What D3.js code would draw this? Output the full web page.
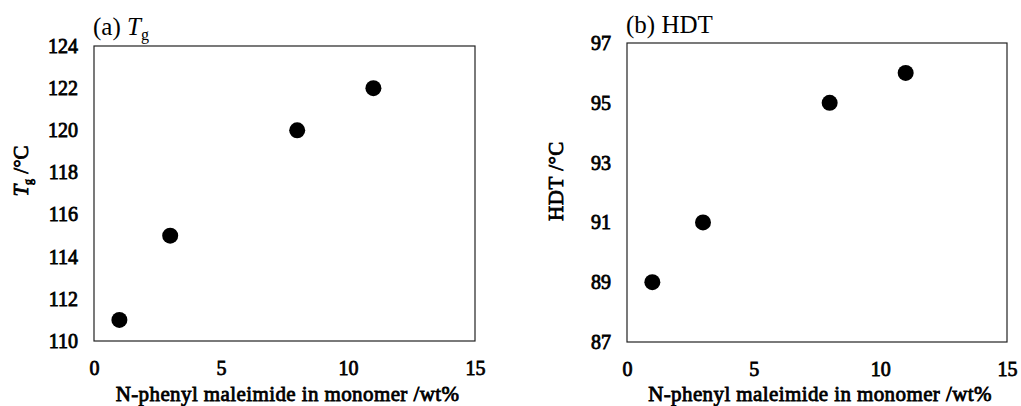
<!DOCTYPE html>
<html><head><meta charset="utf-8">
<script src="https://cdn.jsdelivr.net/npm/d3@7"></script>
<style>body{margin:0;background:#fff}svg{display:block}text{font-family:"Liberation Serif","Times New Roman",serif}
.b{font-weight:normal;stroke:#000;stroke-width:0.8px;fill:#000}</style>
</head><body><svg id="c" width="1021" height="406"></svg>
<script>
const npm = [1, 3, 8, 11];
const tgValues = [111, 115, 120, 122];
const hdtValues = [89, 91, 95, 96];
const xTicks = [0, 5, 10, 15];
const tgTicks = [110, 112, 114, 116, 118, 120, 122, 124];
const hdtTicks = [87, 89, 91, 93, 95, 97];

const svg = d3.select("#c");

function panel(opts) {
  const {left, right, top, bottom, ydom, yticks, vals} = opts;
  const x = d3.scaleLinear().domain([0, 15]).range([left, right]);
  const y = d3.scaleLinear().domain(ydom).range([bottom, top]);
  const g = svg.append("g");
  g.append("rect").attr("x", left).attr("y", top).attr("width", right - left).attr("height", bottom - top)
    .attr("fill", "none").attr("stroke", "#222").attr("stroke-width", 1.2);
  const xa = g.append("g").attr("transform", `translate(0,${bottom + 20})`)
    .call(d3.axisBottom(x).tickValues(xTicks).tickSize(0).tickPadding(0));
  xa.select(".domain").remove();
  xa.selectAll("text").attr("class", "b").attr("font-size", 20).attr("font-family", "Liberation Serif").attr("dy", "0.71em");
  const ya = g.append("g").attr("transform", `translate(${left - 16},0)`)
    .call(d3.axisLeft(y).tickValues(yticks).tickSize(0).tickPadding(0));
  ya.select(".domain").remove();
  ya.selectAll("text").attr("class", "b").attr("font-size", 20).attr("font-family", "Liberation Serif");
  g.selectAll("circle").data(npm.map((d, i) => [d, vals[i]])).join("circle")
    .attr("cx", d => x(d[0])).attr("cy", d => y(d[1])).attr("r", 8).attr("fill", "#000");
  g.append("text").attr("class", "b").attr("x", (left + right) / 2 + 3).attr("y", 401).attr("text-anchor", "middle")
    .attr("font-size", 21).attr("letter-spacing", 0.4).text("N-phenyl maleimide in monomer /wt%");
  return g;
}

const gA = panel({left: 94, right: 475, top: 46, bottom: 341, ydom: [110, 124], yticks: tgTicks, vals: tgValues});
const tA = gA.append("text").attr("x", 93).attr("y", 35).attr("font-size", 25);
tA.append("tspan").text("(a) ");
tA.append("tspan").attr("font-style", "italic").text("T");
tA.append("tspan").attr("font-size", 16).attr("dy", 5).text("g");
const yA = gA.append("text").attr("class", "b").attr("transform", "translate(28,171) rotate(-90)").attr("text-anchor", "middle")
  .attr("font-size", 21);
yA.append("tspan").attr("font-style", "italic").text("T");
yA.append("tspan").attr("font-size", 12).attr("dy", 4).text("g");
yA.append("tspan").attr("dy", -4).text(" /°C");

const gB = panel({left: 627, right: 1007, top: 43, bottom: 342, ydom: [87, 97], yticks: hdtTicks, vals: hdtValues});
gB.append("text").attr("x", 626).attr("y", 33).attr("font-size", 25).text("(b) HDT");
gB.append("text").attr("class", "b").attr("transform", "translate(563,181) rotate(-90)").attr("text-anchor", "middle")
  .attr("font-size", 21).attr("letter-spacing", 0.5).text("HDT /°C");
</script></body></html>
